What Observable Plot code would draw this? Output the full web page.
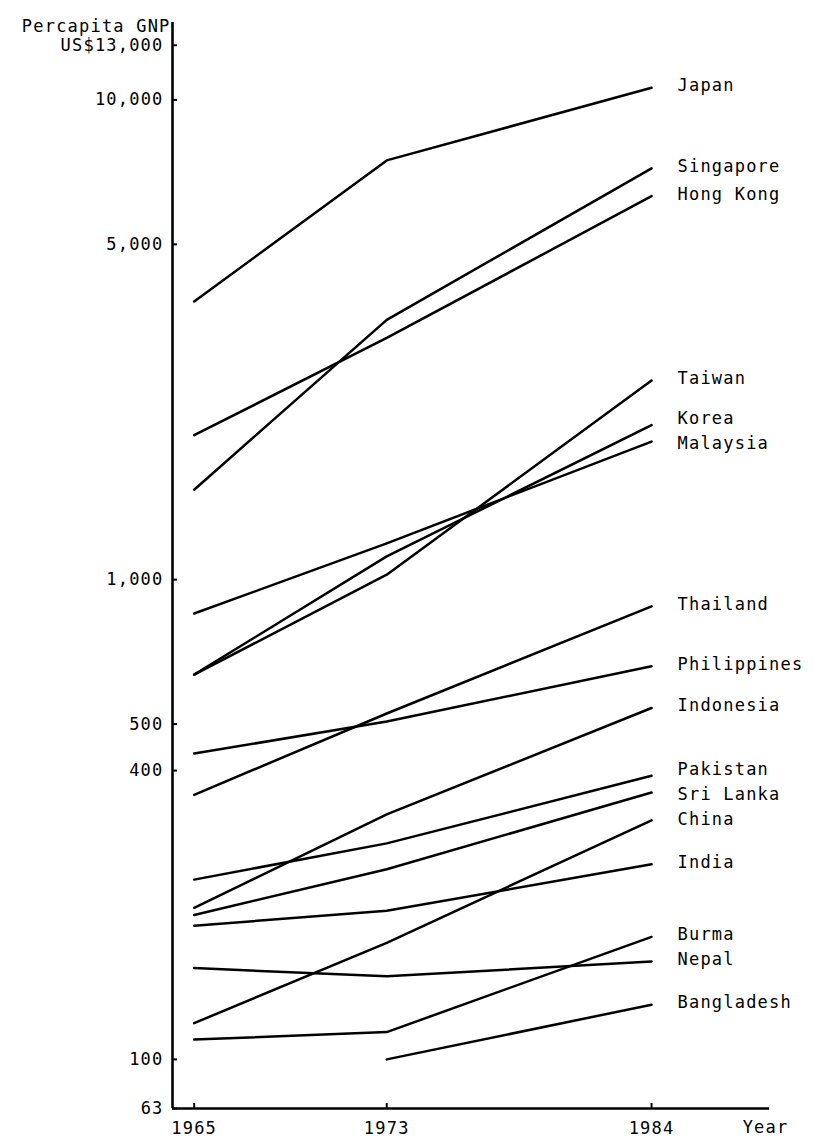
<!DOCTYPE html>
<html>
<head>
<meta charset="utf-8">
<script src="https://cdn.jsdelivr.net/npm/d3@7"></script>
<script src="https://cdn.jsdelivr.net/npm/@observablehq/plot@0.6"></script>
<style>
  html, body { margin: 0; padding: 0; background: #fff; }
  #chart svg text { letter-spacing: 1.2px; }
</style>
</head>
<body>
<div id="chart"></div>
<script>
// ---- data (per capita GNP, US$) ----
const years = [1965, 1973, 1984];
const countries = ["Japan", "Singapore", "Hong Kong", "Taiwan", "Korea", "Malaysia",
  "Thailand", "Philippines", "Indonesia", "Pakistan", "Sri Lanka", "China",
  "India", "Burma", "Nepal", "Bangladesh"];
const gnp1965 = [3800, 1540, 2000, 634, 634, 850, 356, 434, 207, 237, 200, 119, 190, 110, 155, null];
const gnp1973 = [7480, 3480, 3190, 1024, 1118, 1190, 526, 506, 324, 282, 249, 175, 204, 114, 149, 100];
const gnp1984 = [10600, 7200, 6300, 2600, 2100, 1940, 880, 660, 540, 390, 360, 315, 255, 180, 160, 130];

// axis ticks (the bottom of the broken axis is labelled "63")
const yAxisFloor = 79;
const yAxisTop = 14500;
const yTickValues = [yAxisFloor, 100, 400, 500, 1000, 5000, 10000, 13000];
const yTickLabels = ["63", "100", "400", "500", "1,000", "5,000", "10,000", "US$13,000"];
const xTicks = [1965, 1973, 1984];
const xDomain = [1964.1, 1988.9];
const yTitle = "Percapita GNP";
const xTitle = "Year";

// ---- long table ----
const series = [gnp1965, gnp1973, gnp1984];
const rows = [];
countries.forEach((c, i) => {
  years.forEach((yr, j) => {
    const v = series[j][i];
    if (v != null) rows.push({country: c, year: yr, value: v});
  });
});
const lastRows = rows.filter(d => d.year === 1984);

// ---- layout ----
const W = 814, H = 1143;
const M = {left: 172, right: 45, top: 22, bottom: 35};
const FS = 17;
const yOpts = {type: "log", domain: [yAxisFloor, yAxisTop]};

// spread end labels so that they do not collide (computed through the y scale)
const yScale = Plot.scale({y: {...yOpts, range: [H - M.bottom, M.top]}});
const minGap = 25;
const labelPos = lastRows.map(d => ({d, p0: yScale.apply(d.value), p: yScale.apply(d.value)}))
  .sort((a, b) => a.p0 - b.p0);
for (let it = 0; it < 60; it++) {
  for (let i = 1; i < labelPos.length; i++) {
    const gap = labelPos[i].p - labelPos[i - 1].p;
    if (gap < minGap) {
      const push = (minGap - gap) / 2;
      labelPos[i].p += push;
      labelPos[i - 1].p -= push;
    }
  }
}

const chart = Plot.plot({
  width: W,
  height: H,
  marginLeft: M.left,
  marginRight: M.right,
  marginTop: M.top,
  marginBottom: M.bottom,
  style: {fontFamily: "'DejaVu Sans Mono', monospace", fontSize: FS + "px", color: "#000", background: "#fff"},
  x: {domain: xDomain},
  y: yOpts,
  marks: [
    Plot.ruleX([xDomain[0]], {stroke: "#000", strokeWidth: 2.6}),
    Plot.ruleY([yAxisFloor], {stroke: "#000", strokeWidth: 2.6}),
    Plot.axisY(yTickValues, {
      tickSize: -5, tickPadding: 14, strokeWidth: 2,
      tickFormat: d => yTickLabels[yTickValues.indexOf(d)],
      label: null, fontSize: FS
    }),
    Plot.axisX(xTicks, {
      tickSize: -5, tickPadding: 18, strokeWidth: 2,
      tickFormat: d => String(d), label: null, fontSize: FS
    }),
    Plot.line(rows, {
      x: "year", y: "value", z: "country",
      stroke: "#000", strokeWidth: 2.5, strokeLinecap: "round", strokeLinejoin: "round"
    }),
    ...labelPos.map(L => Plot.text([L.d], {
      x: "year", y: "value", text: "country",
      textAnchor: "start", dx: 26, dy: L.p - L.p0 - 2, fontSize: FS, fill: "#000"
    })),
    Plot.text([yTitle], {frameAnchor: "top-left", textAnchor: "end", dx: -2, dy: -3, fontSize: FS, fill: "#000"}),
    Plot.text([xTitle], {frameAnchor: "bottom-right", textAnchor: "middle", dx: -4, dy: 24, fontSize: FS, fill: "#000"})
  ]
});
document.getElementById("chart").appendChild(chart);
</script>
</body>
</html>
